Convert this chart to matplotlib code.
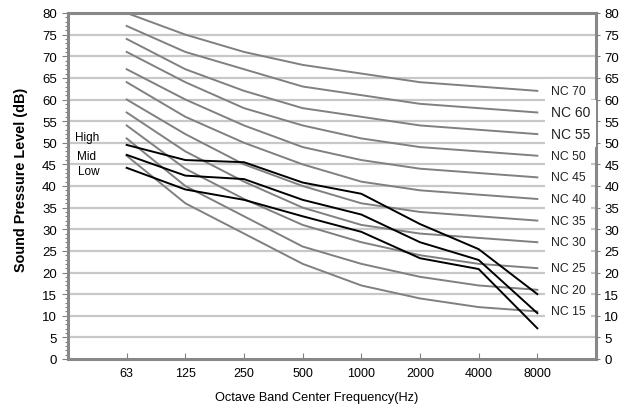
import numpy as np
import matplotlib
matplotlib.use("Agg")
import matplotlib.pyplot as plt

plt.rcParams['font.family'] = ['Liberation Sans', 'DejaVu Sans']

# octave bands
freqs = ['63', '125', '250', '500', '1000', '2000', '4000', '8000']

# NC curves (bottom to top) and the labels used on the chart
nc15 = [47, 36, 29, 22, 17, 14, 12, 11]
nc20 = [51, 40, 33, 26, 22, 19, 17, 16]
nc25 = [54, 44, 37, 31, 27, 24, 22, 21]
nc30 = [57, 48, 41, 35, 31, 29, 28, 27]
nc35 = [60, 52, 45, 40, 36, 34, 33, 32]
nc40 = [64, 56, 50, 45, 41, 39, 38, 37]
nc45 = [67, 60, 54, 49, 46, 44, 43, 42]
nc50 = [71, 64, 58, 54, 51, 49, 48, 47]
nc55 = [74, 67, 62, 58, 56, 54, 53, 52]
nc60 = [77, 71, 67, 63, 61, 59, 58, 57]
nc70 = [80, 75, 71, 68, 66, 64, 63, 62]
nc_curves = [nc15, nc20, nc25, nc30, nc35, nc40, nc45, nc50, nc55, nc60, nc70]
nc_labels = ['NC 15', 'NC 20', 'NC 25', 'NC 30', 'NC 35', 'NC 40',
             'NC 45', 'NC 50', 'NC 55', 'NC 60', 'NC 70']

# measured spectra
high = [49.5, 46, 45.5, 40.8, 38.2, 31.2, 25.4, 15.0]
mid = [47.2, 42.4, 41.6, 36.8, 33.4, 27.0, 22.9, 10.6]
low = [44.2, 39.2, 36.8, 33.0, 29.4, 23.3, 20.8, 7.1]

x = np.arange(1, len(freqs) + 1)

fig = plt.figure(figsize=(6.34, 4.10), dpi=100)
ax = fig.add_axes([68 / 634, 50 / 410, 528 / 634, 346 / 410])

for yv in range(5, 80, 5):
    ax.axhline(yv, color='#c8c8c8', lw=1.6, zorder=0)

for curve in nc_curves:
    ax.plot(x, curve, color='#808080', lw=1.4, zorder=2)

for series in [high, mid, low]:
    ax.plot(x, series, color='black', lw=1.4, zorder=3)

# labels at right end of the NC curves (two of them drawn a bit larger)
for curve, lab in zip(nc_curves, nc_labels):
    fs = 10 if lab in ('NC 60', 'NC 55') else 8.8
    ax.text(8.23, curve[-1], lab, fontsize=fs, color='#222222',
            va='center', ha='left', zorder=4,
            bbox=dict(facecolor='white', edgecolor='none', pad=4))

ax.text(0.32, 51.3, 'High', fontsize=8.5, ha='center', va='center')
ax.text(0.32, 47.0, 'Mid', fontsize=8.5, ha='center', va='center')
ax.text(0.36, 43.5, 'Low', fontsize=8.5, ha='center', va='center')

ax.set_xlim(0, 9)
ax.set_ylim(0, 80)
ax.set_xticks(x)
ax.set_xticklabels(freqs, fontsize=9)
ax.set_yticks(np.arange(0, 81, 5))
ax.set_yticks(np.arange(0, 81, 1), minor=True)
ax.tick_params(axis='y', which='major', labelsize=9.5, length=4, width=0.8,
               color='#808080', direction='out', pad=4)
ax.tick_params(axis='y', which='minor', length=2.5, width=0.8, color='#808080',
               direction='out')
ax.tick_params(axis='x', length=4, width=0.8, color='#808080', direction='in', pad=6)

for sp in ax.spines.values():
    sp.set_color('#888888')
    sp.set_linewidth(2.2)

# right axis with the same scale
ax2 = ax.twinx()
ax2.set_ylim(0, 80)
ax2.set_yticks(np.arange(0, 81, 5))
ax2.tick_params(axis='y', labelsize=9.5, length=3, width=0.8, color='#808080',
                direction='out', pad=3)
for sp in ax2.spines.values():
    sp.set_visible(False)

ax.set_ylabel('Sound Pressure Level (dB)', fontsize=10.4, fontweight='bold')
ax.yaxis.set_label_coords(-0.076, 0.52)
fig.text(0.5, 0.03, 'Octave Band Center Frequency(Hz)', fontsize=9.2,
         ha='center', va='center')

plt.savefig('out.png', dpi=100)
